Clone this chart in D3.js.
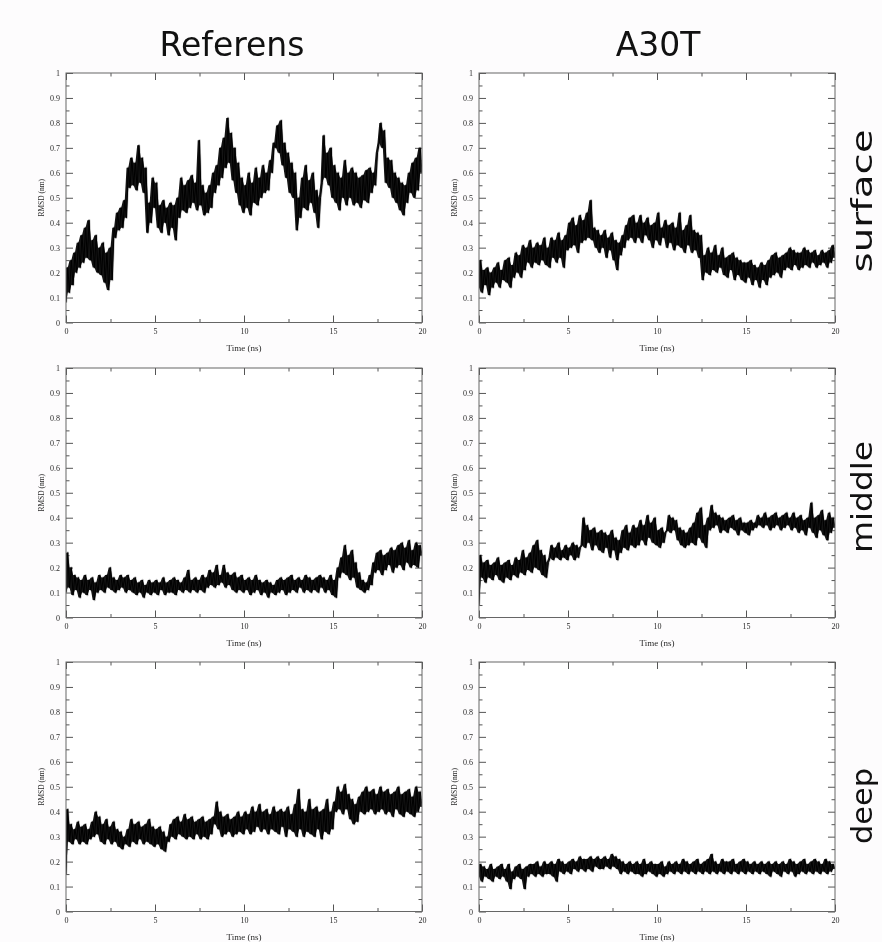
<!DOCTYPE html>
<html>
<head>
<meta charset="utf-8">
<script src="https://cdn.jsdelivr.net/npm/d3@7"></script>
<style>
  body { margin: 0; background: #fdfcfd; }
  svg { display: block; will-change: transform; }
</style>
</head>
<body>
<svg id="svg" width="882" height="942"></svg>
<script>
// RMSD traces (nm), one value every 0.1 ns from 0 to 20 ns
var step = 0.1;

var refSurface = [
  0.08,0.22,0.12,0.25,0.15,0.28,0.20,0.32,0.22,0.35,
  0.24,0.38,0.26,0.41,0.25,0.33,0.22,0.35,0.20,0.30,
  0.19,0.32,0.16,0.28,0.13,0.30,0.17,0.38,0.34,0.44,
  0.37,0.46,0.38,0.49,0.42,0.62,0.54,0.66,0.55,0.64,
  0.53,0.71,0.56,0.66,0.52,0.62,0.36,0.48,0.40,0.58,
  0.46,0.56,0.38,0.47,0.36,0.49,0.40,0.46,0.35,0.48,
  0.38,0.47,0.33,0.50,0.42,0.58,0.45,0.55,0.44,0.57,
  0.46,0.59,0.48,0.56,0.45,0.73,0.47,0.55,0.43,0.52,
  0.44,0.55,0.46,0.60,0.52,0.63,0.55,0.70,0.58,0.74,
  0.62,0.82,0.64,0.76,0.57,0.70,0.52,0.64,0.47,0.58,
  0.44,0.55,0.46,0.60,0.43,0.56,0.48,0.62,0.47,0.58,
  0.50,0.63,0.52,0.60,0.53,0.65,0.60,0.72,0.70,0.79,
  0.68,0.81,0.63,0.72,0.58,0.68,0.52,0.64,0.50,0.60,
  0.37,0.50,0.42,0.58,0.46,0.63,0.45,0.57,0.48,0.60,
  0.44,0.53,0.38,0.50,0.56,0.75,0.58,0.68,0.55,0.70,
  0.50,0.63,0.48,0.60,0.45,0.58,0.50,0.65,0.47,0.60,
  0.50,0.62,0.47,0.60,0.48,0.58,0.46,0.59,0.49,0.61,
  0.48,0.62,0.52,0.60,0.55,0.68,0.72,0.80,0.70,0.77,
  0.56,0.66,0.54,0.65,0.50,0.60,0.48,0.58,0.45,0.56,
  0.43,0.55,0.48,0.60,0.52,0.64,0.50,0.66,0.53,0.70,
  0.60
];

var a30tSurface = [
  0.14,0.25,0.12,0.21,0.15,0.22,0.11,0.20,0.14,0.22,
  0.16,0.24,0.14,0.21,0.17,0.25,0.16,0.26,0.14,0.23,
  0.18,0.28,0.20,0.27,0.18,0.31,0.21,0.30,0.24,0.33,
  0.22,0.30,0.24,0.32,0.23,0.31,0.25,0.34,0.23,0.30,
  0.22,0.34,0.26,0.33,0.24,0.36,0.26,0.33,0.22,0.35,
  0.29,0.40,0.30,0.42,0.31,0.39,0.28,0.43,0.32,0.41,
  0.33,0.44,0.34,0.49,0.33,0.38,0.30,0.37,0.28,0.35,
  0.30,0.37,0.26,0.34,0.29,0.36,0.25,0.33,0.21,0.32,
  0.27,0.35,0.30,0.39,0.33,0.42,0.34,0.43,0.32,0.40,
  0.34,0.43,0.32,0.40,0.35,0.42,0.33,0.39,0.30,0.40,
  0.33,0.44,0.31,0.38,0.34,0.41,0.30,0.39,0.32,0.40,
  0.29,0.38,0.31,0.44,0.30,0.37,0.28,0.39,0.31,0.43,
  0.28,0.37,0.29,0.36,0.26,0.35,0.17,0.27,0.20,0.30,
  0.19,0.28,0.21,0.31,0.20,0.27,0.22,0.30,0.19,0.26,
  0.18,0.27,0.21,0.28,0.17,0.26,0.19,0.25,0.17,0.24,
  0.16,0.24,0.18,0.25,0.15,0.23,0.17,0.22,0.14,0.24,
  0.17,0.23,0.15,0.25,0.18,0.27,0.19,0.28,0.20,0.26,
  0.18,0.27,0.21,0.28,0.22,0.30,0.21,0.29,0.23,0.28,
  0.21,0.28,0.22,0.30,0.23,0.29,0.22,0.28,0.24,0.29,
  0.22,0.27,0.23,0.29,0.24,0.28,0.22,0.29,0.24,0.31,
  0.26
];

var refMiddle = [
  0.10,0.26,0.12,0.20,0.09,0.17,0.11,0.16,0.08,0.15,
  0.10,0.17,0.09,0.15,0.11,0.16,0.07,0.14,0.10,0.17,
  0.11,0.16,0.10,0.17,0.12,0.20,0.11,0.16,0.10,0.15,
  0.11,0.17,0.12,0.16,0.10,0.17,0.11,0.15,0.10,0.16,
  0.09,0.14,0.10,0.15,0.08,0.13,0.10,0.15,0.09,0.14,
  0.10,0.15,0.09,0.14,0.11,0.16,0.09,0.14,0.10,0.15,
  0.10,0.16,0.09,0.15,0.11,0.14,0.10,0.16,0.11,0.19,
  0.10,0.15,0.11,0.16,0.10,0.15,0.11,0.17,0.10,0.16,
  0.12,0.19,0.13,0.18,0.12,0.21,0.13,0.17,0.14,0.21,
  0.12,0.18,0.13,0.17,0.11,0.18,0.10,0.16,0.11,0.17,
  0.10,0.15,0.11,0.16,0.09,0.15,0.10,0.17,0.11,0.15,
  0.09,0.14,0.10,0.15,0.08,0.14,0.10,0.13,0.09,0.15,
  0.10,0.16,0.11,0.15,0.09,0.16,0.10,0.17,0.11,0.15,
  0.10,0.16,0.12,0.15,0.10,0.17,0.11,0.16,0.10,0.15,
  0.11,0.16,0.10,0.17,0.12,0.16,0.10,0.15,0.11,0.17,
  0.09,0.15,0.08,0.20,0.16,0.24,0.18,0.29,0.17,0.25,
  0.15,0.27,0.16,0.22,0.12,0.18,0.11,0.15,0.10,0.14,
  0.11,0.17,0.13,0.22,0.18,0.26,0.19,0.27,0.17,0.25,
  0.19,0.26,0.21,0.28,0.18,0.27,0.20,0.29,0.21,0.30,
  0.19,0.28,0.22,0.31,0.20,0.27,0.21,0.30,0.20,0.29,
  0.25
];

var a30tMiddle = [
  0.05,0.25,0.16,0.22,0.14,0.23,0.16,0.21,0.15,0.22,
  0.17,0.24,0.15,0.21,0.14,0.22,0.16,0.23,0.15,0.21,
  0.17,0.24,0.16,0.23,0.18,0.27,0.17,0.24,0.19,0.26,
  0.18,0.29,0.20,0.31,0.19,0.27,0.17,0.25,0.16,0.22,
  0.24,0.29,0.23,0.28,0.24,0.30,0.23,0.27,0.24,0.29,
  0.23,0.28,0.25,0.30,0.23,0.29,0.24,0.28,0.29,0.40,
  0.28,0.37,0.30,0.35,0.27,0.36,0.29,0.34,0.27,0.35,
  0.26,0.34,0.28,0.33,0.24,0.35,0.27,0.32,0.23,0.31,
  0.26,0.35,0.28,0.37,0.27,0.34,0.29,0.37,0.28,0.36,
  0.29,0.39,0.31,0.37,0.29,0.41,0.32,0.38,0.30,0.40,
  0.29,0.35,0.28,0.36,0.30,0.34,0.35,0.41,0.34,0.40,
  0.35,0.39,0.31,0.36,0.29,0.35,0.28,0.34,0.29,0.36,
  0.30,0.38,0.29,0.42,0.32,0.44,0.30,0.37,0.28,0.40,
  0.35,0.45,0.36,0.42,0.37,0.41,0.34,0.40,0.35,0.39,
  0.34,0.40,0.36,0.41,0.35,0.39,0.33,0.40,0.35,0.38,
  0.34,0.38,0.33,0.39,0.35,0.38,0.36,0.41,0.37,0.40,
  0.36,0.42,0.37,0.40,0.35,0.41,0.36,0.42,0.37,0.40,
  0.35,0.41,0.36,0.42,0.37,0.40,0.35,0.42,0.36,0.40,
  0.34,0.41,0.35,0.39,0.33,0.40,0.36,0.46,0.34,0.40,
  0.32,0.41,0.35,0.43,0.33,0.39,0.31,0.42,0.34,0.40,
  0.36
];

var refDeep = [
  0.15,0.41,0.28,0.35,0.27,0.33,0.29,0.36,0.27,0.34,
  0.28,0.35,0.27,0.33,0.29,0.36,0.30,0.40,0.31,0.38,
  0.28,0.35,0.27,0.37,0.29,0.34,0.27,0.36,0.28,0.33,
  0.26,0.32,0.25,0.30,0.27,0.33,0.26,0.37,0.28,0.35,
  0.27,0.36,0.29,0.34,0.27,0.35,0.28,0.37,0.27,0.34,
  0.26,0.33,0.27,0.34,0.25,0.32,0.24,0.30,0.28,0.35,
  0.30,0.37,0.29,0.38,0.31,0.36,0.30,0.39,0.29,0.37,
  0.30,0.38,0.29,0.36,0.31,0.37,0.29,0.38,0.30,0.36,
  0.29,0.37,0.31,0.38,0.35,0.44,0.33,0.40,0.30,0.38,
  0.31,0.39,0.32,0.37,0.30,0.38,0.31,0.40,0.32,0.38,
  0.31,0.40,0.33,0.39,0.31,0.42,0.32,0.40,0.34,0.43,
  0.32,0.40,0.33,0.41,0.31,0.39,0.33,0.42,0.32,0.40,
  0.31,0.41,0.34,0.40,0.30,0.42,0.33,0.39,0.32,0.43,
  0.30,0.49,0.33,0.41,0.30,0.40,0.32,0.45,0.31,0.41,
  0.30,0.42,0.33,0.40,0.29,0.41,0.32,0.45,0.31,0.40,
  0.33,0.44,0.40,0.50,0.41,0.48,0.39,0.51,0.41,0.47,
  0.37,0.45,0.35,0.43,0.36,0.46,0.40,0.48,0.39,0.50,
  0.40,0.48,0.41,0.49,0.39,0.47,0.40,0.50,0.41,0.48,
  0.39,0.49,0.40,0.47,0.38,0.48,0.41,0.50,0.39,0.47,
  0.38,0.48,0.40,0.49,0.39,0.46,0.38,0.50,0.40,0.48,
  0.42
];

var a30tDeep = [
  0.14,0.19,0.12,0.18,0.14,0.17,0.13,0.19,0.12,0.17,
  0.14,0.18,0.13,0.19,0.14,0.17,0.12,0.19,0.09,0.16,
  0.13,0.18,0.14,0.19,0.13,0.17,0.09,0.18,0.14,0.19,
  0.15,0.19,0.14,0.20,0.15,0.18,0.14,0.20,0.15,0.19,
  0.15,0.20,0.14,0.19,0.12,0.21,0.16,0.20,0.15,0.19,
  0.16,0.20,0.15,0.21,0.17,0.20,0.16,0.22,0.17,0.21,
  0.16,0.21,0.17,0.22,0.16,0.21,0.18,0.22,0.17,0.21,
  0.17,0.22,0.18,0.21,0.17,0.23,0.18,0.22,0.17,0.21,
  0.15,0.20,0.16,0.19,0.15,0.20,0.16,0.19,0.15,0.20,
  0.15,0.19,0.14,0.21,0.15,0.19,0.16,0.20,0.15,0.19,
  0.14,0.19,0.15,0.20,0.14,0.18,0.15,0.20,0.16,0.19,
  0.15,0.20,0.16,0.19,0.15,0.21,0.16,0.20,0.15,0.19,
  0.16,0.20,0.15,0.21,0.16,0.19,0.15,0.20,0.16,0.21,
  0.15,0.23,0.16,0.20,0.15,0.19,0.16,0.21,0.15,0.20,
  0.16,0.20,0.15,0.21,0.16,0.19,0.15,0.20,0.16,0.21,
  0.15,0.20,0.16,0.19,0.15,0.20,0.16,0.19,0.15,0.20,
  0.16,0.19,0.15,0.20,0.14,0.19,0.16,0.20,0.15,0.19,
  0.14,0.20,0.16,0.19,0.15,0.21,0.16,0.20,0.14,0.19,
  0.15,0.20,0.16,0.21,0.15,0.19,0.16,0.20,0.15,0.21,
  0.16,0.20,0.15,0.19,0.16,0.21,0.15,0.20,0.16,0.19,
  0.17
];

var columns = ["Referens", "A30T"];
var rowNames = ["surface", "middle", "deep"];
var xTicks = [0, 5, 10, 15, 20];
var xMinorTicks = [2.5, 7.5, 12.5, 17.5];
var yTicks = [0, 0.1, 0.2, 0.3, 0.4, 0.5, 0.6, 0.7, 0.8, 0.9, 1];
var yTickLabels = ["0", "0.1", "0.2", "0.3", "0.4", "0.5", "0.6", "0.7", "0.8", "0.9", "1"];
var yMinorTicks = [0.05, 0.15, 0.25, 0.35, 0.45, 0.55, 0.65, 0.75, 0.85, 0.95];
var xLabel = "Time (ns)";
var yLabel = "RMSD (nm)";

var series = [
  [refSurface, a30tSurface],
  [refMiddle, a30tMiddle],
  [refDeep, a30tDeep]
];

// layout
var colLeft = [66, 479];
var rowTop = [73, 368, 662];
var gwidth = 356, gheight = 249.5;
var titleX = [232, 658];
var rowLabelY = [201, 497, 806];
var rowLabelLen = [143, 112, 76];

var svg = d3.select("#svg");

var x = d3.scaleLinear().domain([0, 20]).range([0, gwidth]);
var y = d3.scaleLinear().domain([0, 1]).range([gheight, 0]);

var line = d3.line()
    .x(function(d, i) { return x(i * step); })
    .y(function(d) { return y(d); });

// the dense trace fills the span of each sample and the next one
function localRange(data) {
    return data.map(function(d, i) {
        var w = data.slice(i, i + 2);
        return [d3.min(w), d3.max(w)];
    });
}

var band = d3.area()
    .x(function(d, i) { return x(i * step); })
    .y0(function(d) { return y(d[0]); })
    .y1(function(d) { return y(d[1]); });

function styleAxis(g) {
    g.select(".domain").remove();
    g.selectAll(".tick line").attr("stroke", "#555").attr("stroke-width", 1);
    g.selectAll(".tick text")
        .attr("fill", "#2a2a2a")
        .attr("font-family", "'Liberation Serif', 'DejaVu Serif', serif")
        .attr("font-size", 8);
}

function drawPanel(r, c) {
    var g = svg.append("g")
        .attr("transform", "translate(" + colLeft[c] + "," + rowTop[r] + ")");

    g.append("rect")
        .attr("width", gwidth)
        .attr("height", gheight)
        .attr("fill", "#fff");

    // minor ticks, all four sides
    g.append("g").attr("transform", "translate(0," + gheight + ")")
        .call(d3.axisBottom(x).tickValues(xMinorTicks).tickSize(-3.5).tickFormat(""))
        .call(styleAxis);
    g.append("g")
        .call(d3.axisTop(x).tickValues(xMinorTicks).tickSize(-3.5).tickFormat(""))
        .call(styleAxis);
    g.append("g")
        .call(d3.axisLeft(y).tickValues(yMinorTicks).tickSize(-3.5).tickFormat(""))
        .call(styleAxis);
    g.append("g").attr("transform", "translate(" + gwidth + ",0)")
        .call(d3.axisRight(y).tickValues(yMinorTicks).tickSize(-3.5).tickFormat(""))
        .call(styleAxis);

    // major ticks
    g.append("g").attr("transform", "translate(0," + gheight + ")")
        .call(d3.axisBottom(x).tickValues(xTicks).tickSize(-7).tickPadding(6)
            .tickFormat(function(d) { return d; }))
        .call(styleAxis);
    g.append("g")
        .call(d3.axisTop(x).tickValues(xTicks).tickSize(-7).tickFormat(""))
        .call(styleAxis);
    g.append("g")
        .call(d3.axisLeft(y).tickValues(yTicks).tickSize(-7).tickPadding(6)
            .tickFormat(function(d, i) { return yTickLabels[i]; }))
        .call(styleAxis);
    g.append("g").attr("transform", "translate(" + gwidth + ",0)")
        .call(d3.axisRight(y).tickValues(yTicks).tickSize(-7).tickFormat(""))
        .call(styleAxis);

    var clipId = "clip" + r + c;
    g.append("clipPath").attr("id", clipId)
        .append("rect").attr("width", gwidth).attr("height", gheight);

    var data = series[r][c];
    var plot = g.append("g").attr("clip-path", "url(#" + clipId + ")");

    // grey halo, dark band, then the trace itself
    plot.append("path").datum(data)
        .attr("fill", "none")
        .attr("stroke", "#777")
        .attr("stroke-opacity", 0.5)
        .attr("stroke-width", 2.4)
        .attr("stroke-linejoin", "round")
        .attr("d", line);
    plot.append("path").datum(localRange(data))
        .attr("fill", "#141414")
        .attr("d", band);
    plot.append("path").datum(data)
        .attr("fill", "none")
        .attr("stroke", "#000")
        .attr("stroke-width", 1)
        .attr("stroke-linejoin", "round")
        .attr("d", line);

    g.append("rect")
        .attr("width", gwidth)
        .attr("height", gheight)
        .attr("fill", "none")
        .attr("stroke", "#666")
        .attr("stroke-width", 1);

    g.append("text")
        .attr("x", gwidth / 2)
        .attr("y", gheight + 28)
        .attr("text-anchor", "middle")
        .attr("fill", "#2a2a2a")
        .attr("font-family", "'Liberation Serif', serif")
        .attr("font-size", 9)
        .text(xLabel);

    g.append("text")
        .attr("transform", "translate(-22," + (gheight / 2) + ") rotate(-90)")
        .attr("text-anchor", "middle")
        .attr("fill", "#2a2a2a")
        .attr("font-family", "'Liberation Serif', serif")
        .attr("font-size", 7.5)
        .text(yLabel);
}

for (var r = 0; r < 3; r++) {
    for (var c = 0; c < 2; c++) {
        drawPanel(r, c);
    }
}

columns.forEach(function(name, i) {
    svg.append("text")
        .attr("x", titleX[i])
        .attr("y", 56)
        .attr("text-anchor", "middle")
        .attr("fill", "#111")
        .attr("font-family", "'DejaVu Sans', sans-serif")
        .attr("font-size", 33)
        .text(name);
});

rowNames.forEach(function(name, i) {
    svg.append("text")
        .attr("transform", "translate(872," + rowLabelY[i] + ") rotate(-90)")
        .attr("text-anchor", "middle")
        .attr("fill", "#111")
        .attr("font-family", "'DejaVu Sans', sans-serif")
        .attr("font-size", 29)
        .attr("textLength", rowLabelLen[i])
        .attr("lengthAdjust", "spacingAndGlyphs")
        .text(name);
});
</script>
</body>
</html>
